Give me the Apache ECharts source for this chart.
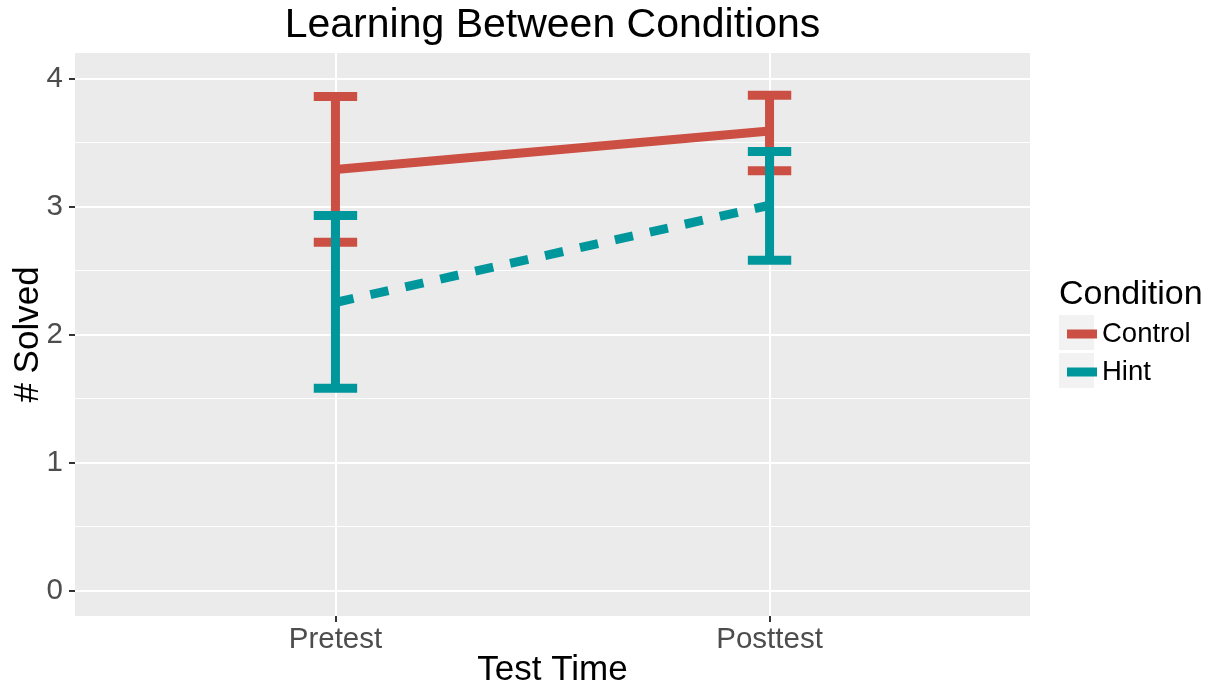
<!DOCTYPE html>
<html>
<head>
<meta charset="utf-8">
<script src="https://cdn.jsdelivr.net/npm/echarts@6/dist/echarts.min.js"></script>
<style>
html,body{margin:0;padding:0;background:#fff;}
#chart{width:1210px;height:687px;}
</style>
</head>
<body>
<div id="chart"></div>
<script>
// ---- data ----
const categories = ['Pretest', 'Posttest'];
const controlMean = [3.29, 3.59];
const controlLow = [2.72, 3.28];
const controlHigh = [3.86, 3.87];
const hintMean = [2.25, 3.01];
const hintLow = [1.58, 2.58];
const hintHigh = [2.93, 3.43];
const yTicks = [0, 1, 2, 3, 4];
const yMinorTicks = [0.5, 1.5, 2.5, 3.5];
const seriesNames = ['Control', 'Hint'];

const RED = '#CB4F42';
const TEAL = '#00979C';
const LW = 9;
const capWidth = 0.1;

const xPos = categories.map((c, i) => i + 1);
const toLine = arr => arr.map((v, i) => [xPos[i], v]);
const toBars = (lo, hi) => lo.map((v, i) => [xPos[i], v, hi[i]]);

function errorBarRenderer(color) {
  return function (params, api) {
    const x = api.value(0), lo = api.value(1), hi = api.value(2);
    const pLo = api.coord([x, lo]);
    const pHi = api.coord([x, hi]);
    const hw = api.size([capWidth, 0])[0] / 2;
    const st = { stroke: color, lineWidth: LW, lineCap: 'butt' };
    return {
      type: 'group',
      children: [
        { type: 'line', shape: { x1: pLo[0], y1: pLo[1], x2: pHi[0], y2: pHi[1] }, style: st },
        { type: 'line', shape: { x1: pHi[0] - hw, y1: pHi[1], x2: pHi[0] + hw, y2: pHi[1] }, style: st },
        { type: 'line', shape: { x1: pLo[0] - hw, y1: pLo[1], x2: pLo[0] + hw, y2: pLo[1] }, style: st }
      ]
    };
  };
}

const chart = echarts.init(document.getElementById('chart'));
const FONT = 'Liberation Sans, Arial, sans-serif';
chart.setOption({
  animation: false,
  backgroundColor: '#ffffff',
  textStyle: { fontFamily: FONT },
  grid: {
    left: 75, right: 180, top: 53, bottom: 71,
    containLabel: false, outerBoundsMode: 'none',
    show: true, backgroundColor: '#EBEBEB', borderWidth: 0
  },
  xAxis: {
    type: 'value', min: 0.4, max: 2.6,
    axisLine: { show: false, onZero: false },
    axisTick: { show: true, customValues: xPos, length: 6, lineStyle: { color: '#333333', width: 2 } },
    axisLabel: {
      customValues: xPos, margin: 9, fontSize: 29.5, color: '#4D4D4D', fontFamily: FONT,
      formatter: v => categories[Math.round(v) - 1] || ''
    },
    splitLine: { show: true, lineStyle: { color: '#ffffff', width: 2 } }
  },
  yAxis: [{
    type: 'value', min: -0.2, max: 4.2,
    axisLine: { show: false, onZero: false },
    axisTick: { show: true, customValues: yTicks, length: 6, lineStyle: { color: '#333333', width: 2 } },
    axisLabel: { customValues: yTicks, margin: 12, fontSize: 29.5, color: '#4D4D4D', fontFamily: FONT },
    splitLine: { show: true, lineStyle: { color: '#ffffff', width: 2 } }
  }, {
    type: 'value', min: -0.2, max: 4.2, position: 'left',
    axisLine: { show: false, onZero: false },
    axisTick: { show: false, customValues: yMinorTicks },
    axisLabel: { show: false, customValues: yMinorTicks },
    splitLine: { show: true, lineStyle: { color: '#ffffff', width: 1 } }
  }],
  legend: {
    orient: 'vertical', left: 1062, top: 315,
    data: seriesNames.map(n => ({ name: n, icon: 'rect' })),
    itemWidth: 30, itemHeight: 9, itemGap: 10,
    textStyle: { fontSize: 27.5, color: '#000', fontFamily: FONT, lineHeight: 27, padding: [0, 0, 0, 0] },
    selectedMode: false
  },
  graphic: [
    { type: 'text', x: 552.5, y: 26, z: 10,
      style: { text: 'Learning Between Conditions', font: '41px ' + FONT, fill: '#000', textAlign: 'center', textVerticalAlign: 'middle' } },
    { type: 'text', x: 552.5, y: 670, z: 10,
      style: { text: 'Test Time', font: '35px ' + FONT, fill: '#000', textAlign: 'center', textVerticalAlign: 'middle' } },
    { type: 'text', x: 28, y: 334.5, rotation: Math.PI / 2, z: 10,
      style: { text: '# Solved', font: '35px ' + FONT, fill: '#000', textAlign: 'center', textVerticalAlign: 'middle' } },
    { type: 'text', x: 1059, y: 295, z: 10,
      style: { text: 'Condition', font: '34px ' + FONT, fill: '#000', textAlign: 'left', textVerticalAlign: 'middle' } },
    { type: 'rect', shape: { x: 1059, y: 315, width: 35, height: 35 }, style: { fill: '#F2F2F2' }, z: 0 },
    { type: 'rect', shape: { x: 1059, y: 353, width: 35, height: 35 }, style: { fill: '#F2F2F2' }, z: 0 }
  ],
  series: [
    { name: 'Control', type: 'line', data: toLine(controlMean), color: RED, showSymbol: false, symbol: 'none',
      lineStyle: { color: RED, width: LW, cap: 'butt' }, itemStyle: { color: RED }, z: 3 },
    { name: 'Hint', type: 'line', data: toLine(hintMean), color: TEAL, showSymbol: false, symbol: 'none',
      lineStyle: { color: TEAL, width: LW, type: [18.5, 17.3], cap: 'butt' }, itemStyle: { color: TEAL }, z: 3 },
    { name: 'Control bars', type: 'custom', data: toBars(controlLow, controlHigh), encode: { x: 0, y: [1, 2] },
      renderItem: errorBarRenderer(RED), z: 4, silent: true },
    { name: 'Hint bars', type: 'custom', data: toBars(hintLow, hintHigh), encode: { x: 0, y: [1, 2] },
      renderItem: errorBarRenderer(TEAL), z: 5, silent: true }
  ]
});
</script>
</body>
</html>
